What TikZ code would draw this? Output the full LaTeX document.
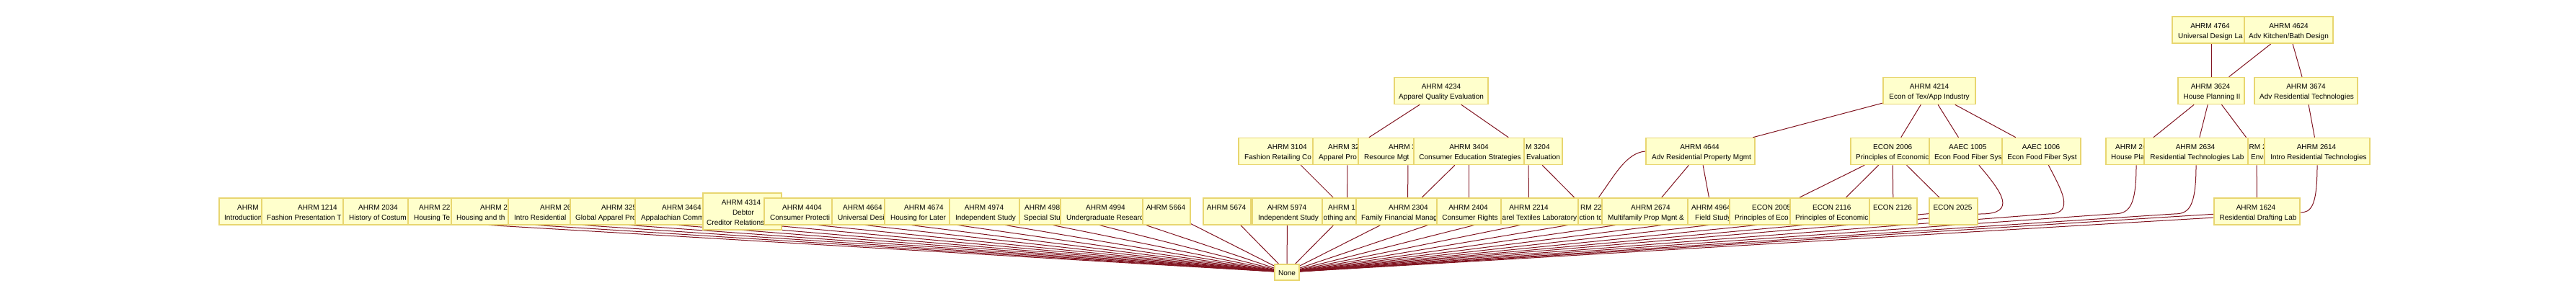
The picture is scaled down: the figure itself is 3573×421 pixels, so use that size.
\documentclass[tikz,border=0pt]{standalone}
\usepackage{fontspec}
\setmainfont{Liberation Sans}
\usetikzlibrary{backgrounds}

\definecolor{crsfill}{RGB}{255,255,204}
\definecolor{crsline}{RGB}{232,214,112}
\definecolor{prqred}{RGB}{128,20,32}

\tikzset{
  crs/.style={draw=crsline, fill=crsfill, line width=1.6pt, inner sep=0pt, minimum height=37pt},
  lbl/.style={inner sep=0pt, anchor=base, font=\fontsize{10pt}{12pt}\selectfont},
  lbll/.style={lbl, anchor=base west},
  prq/.style={draw=prqred, line width=1pt},
}

\begin{document}
\begin{tikzpicture}[x=1pt,y=1pt,yscale=-1,xscale=1]
        \useasboundingbox (0,0) rectangle (3573,421);

        % level 1
        \node[crs, minimum width=108pt] (ahrm4764) at (3067,41.5) {};
        \node[lbl] at (3065.5,39) {AHRM 4764};
        \node[lbll] at (3021,53) {Universal Design La};
        \node[crs, minimum width=123pt] (ahrm4624) at (3174.5,41.5) {};
        \node[lbl] at (3174.5,39) {AHRM 4624};
        \node[lbl] at (3174.5,53) {Adv Kitchen/Bath Design};

        % level 2
        \node[crs, minimum width=130pt] (ahrm4234) at (1999,126) {};
        \node[lbl] at (1999,123.5) {AHRM 4234};
        \node[lbl] at (1999,137.5) {Apparel Quality Evaluation};
        \node[crs, minimum width=128pt] (ahrm4214) at (2676,126) {};
        \node[lbl] at (2676,123.5) {AHRM 4214};
        \node[lbl] at (2676,137.5) {Econ of Tex/App Industry};
        \node[crs, minimum width=92pt] (ahrm3624) at (3067,126) {};
        \node[lbl] at (3066,123.5) {AHRM 3624};
        \node[lbl] at (3068,137.5) {House Planning II};
        \node[crs, minimum width=143pt] (ahrm3674) at (3198.5,126) {};
        \node[lbl] at (3198.5,123.5) {AHRM 3674};
        \node[lbl] at (3199.5,137.5) {Adv Residential Technologies};

        % level 3
        \node[crs, minimum width=134pt] (fashret) at (1785,210) {};
        \node[lbll] at (1758,207.5) {AHRM 3104};
        \node[lbll] at (1726,221.5) {Fashion Retailing Co};
        \node[crs, minimum width=96pt] (apparelpro) at (1869,210) {};
        \node[lbll] at (1842,207.5) {AHRM 32};
        \node[lbll] at (1829,221.5) {Apparel Pro};
        \node[crs, minimum width=138pt] (resmgt) at (1953,210) {};
        \node[lbll] at (1926,207.5) {AHRM 3};
        \node[lbll] at (1892,221.5) {Resource Mgt};
        \node[crs, minimum width=94pt] (ahrm3204) at (2120,210) {};
        \node[lbll] at (2116,207.5) {M 3204};
        \node[lbll] at (2117,221.5) {Evaluation};
        \node[crs, minimum width=153pt] (ahrm3404) at (2037.5,210) {};
        \node[lbl] at (2037.5,207.5) {AHRM 3404};
        \node[lbl] at (2039,221.5) {Consumer Education Strategies};
        \node[crs, minimum width=151pt] (ahrm4644) at (2358.5,210) {};
        \node[lbl] at (2357.5,207.5) {AHRM 4644};
        \node[lbl] at (2360,221.5) {Adv Residential Property Mgmt};
        \node[crs, minimum width=116pt] (econ2006) at (2625,210) {};
        \node[lbll] at (2598,207.5) {ECON 2006};
        \node[lbll] at (2574,221.5) {Principles of Economic};
        \node[crs, minimum width=105pt] (aaec1005) at (2728.5,210) {};
        \node[lbll] at (2703,207.5) {AAEC 1005};
        \node[lbll] at (2683,221.5) {Econ Food Fiber Sys};
        \node[crs, minimum width=109pt] (aaec1006) at (2831.5,210) {};
        \node[lbl] at (2831,207.5) {AAEC 1006};
        \node[lbl] at (2832.5,221.5) {Econ Food Fiber Syst};
        \node[crs, minimum width=84pt] (housepl) at (2963,210) {};
        \node[lbll] at (2934,207.5) {AHRM 26};
        \node[lbll] at (2928,221.5) {House Pla};
        \node[crs, minimum width=100pt] (envi) at (3130,210) {};
        \node[lbll] at (3119.5,207.5) {RM 2};
        \node[lbll] at (3122,221.5) {Envi};
        \node[crs, minimum width=144pt] (ahrm2634) at (3046,210) {};
        \node[lbl] at (3045,207.5) {AHRM 2634};
        \node[lbl] at (3047.5,221.5) {Residential Technologies Lab};
        \node[crs, minimum width=146pt] (ahrm2614) at (3214,210) {};
        \node[lbl] at (3213,207.5) {AHRM 2614};
        \node[lbl] at (3216,221.5) {Intro Residential Technologies};

        % level 4
        \node[crs, minimum width=104pt] (intro) at (356,293.5) {};
        \node[lbll] at (329,291) {AHRM};
        \node[lbll] at (311,305) {Introduction};
        \node[crs, minimum width=154pt] (ahrm1214) at (440,293.5) {};
        \node[lbll] at (413,291) {AHRM 1214};
        \node[lbll] at (370,305) {Fashion Presentation T};
        \node[crs, minimum width=96pt] (ahrm2034) at (524,293.5) {};
        \node[lbll] at (497,291) {AHRM 2034};
        \node[lbll] at (484,305) {History of Costum};
        \node[crs, minimum width=83pt] (housingte) at (607.5,293.5) {};
        \node[lbll] at (581,291) {AHRM 22};
        \node[lbll] at (574,305) {Housing Te};
        \node[crs, minimum width=133pt] (housingand) at (692.5,293.5) {};
        \node[lbll] at (666,291) {AHRM 2};
        \node[lbll] at (633,305) {Housing and th};
        \node[crs, minimum width=141pt] (introres) at (775.5,293.5) {};
        \node[lbll] at (749,291) {AHRM 26};
        \node[lbll] at (713,305) {Intro Residential};
        \node[crs, minimum width=139pt] (globalapp) at (860.5,293.5) {};
        \node[lbll] at (834,291) {AHRM 325};
        \node[lbll] at (798,305) {Global Apparel Pro};
        \node[crs, minimum width=126pt] (ahrm3464) at (944,293.5) {};
        \node[lbll] at (918,291) {AHRM 3464};
        \node[lbll] at (889,305) {Appalachian Comm};
        \node[crs, minimum width=109pt, minimum height=51pt] (ahrm4314) at (1029.5,293.5) {};
        \node[lbl] at (1028,284.5) {AHRM 4314};
        \node[lbl] at (1031,298.5) {Debtor};
        \node[lbll] at (980,312.5) {Creditor Relations};
        \node[crs, minimum width=104pt] (ahrm4404) at (1112,293.5) {};
        \node[lbll] at (1085,291) {AHRM 4404};
        \node[lbll] at (1068,305) {Consumer Protecti};
        \node[crs, minimum width=83pt] (ahrm4664) at (1195.5,293.5) {};
        \node[lbll] at (1169,291) {AHRM 4664};
        \node[lbll] at (1162,305) {Universal Desi};
        \node[crs, minimum width=107pt] (ahrm4674) at (1280.5,293.5) {};
        \node[lbll] at (1254,291) {AHRM 4674};
        \node[lbll] at (1235,305) {Housing for Later};
        \node[crs, minimum width=97pt] (ahrm4974) at (1365.5,293.5) {};
        \node[lbl] at (1365,291) {AHRM 4974};
        \node[lbl] at (1367,305) {Independent Study};
        \node[crs, minimum width=70pt] (specialstu) at (1449,293.5) {};
        \node[lbll] at (1421,291) {AHRM 498};
        \node[lbll] at (1420,305) {Special Stu};
        \node[crs, minimum width=123pt] (ahrm4994) at (1532.5,293.5) {};
        \node[lbll] at (1506,291) {AHRM 4994};
        \node[lbll] at (1479,305) {Undergraduate Researc};
        \node[crs, minimum width=66pt] (ahrm5664) at (1618,293.5) {};
        \node[lbl] at (1617,291) {AHRM 5664};
        \node[crs, minimum width=66pt] (ahrm5674) at (1702,293.5) {};
        \node[lbl] at (1701,291) {AHRM 5674};
        \node[crs, minimum width=101pt] (clothing) at (1868.5,293.5) {};
        \node[lbll] at (1842,291) {AHRM 1};
        \node[lbll] at (1835.5,305) {othing and};
        \node[crs, minimum width=97pt] (ahrm5974) at (1785.5,293.5) {};
        \node[lbl] at (1785,291) {AHRM 5974};
        \node[lbl] at (1787,305) {Independent Study};
        \node[crs, minimum width=143pt] (ahrm2304) at (1952.5,293.5) {};
        \node[lbll] at (1926,291) {AHRM 2304};
        \node[lbll] at (1888,305) {Family Financial Manag};
        \node[crs, minimum width=90pt] (introto) at (2203,293.5) {};
        \node[lbll] at (2192,291) {RM 22};
        \node[lbll] at (2190.5,305) {ction to};
        \node[crs, minimum width=137pt] (ahrm2214) at (2120.5,293.5) {};
        \node[lbl] at (2120.5,291) {AHRM 2214};
        \node[lbll] at (2083.5,305) {arel Textiles Laboratory};
        \node[crs, minimum width=89pt] (ahrm2404) at (2037.5,293.5) {};
        \node[lbl] at (2036.5,291) {AHRM 2404};
        \node[lbl] at (2039,305) {Consumer Rights};
        \node[crs, minimum width=133pt] (ahrm2674) at (2288.5,293.5) {};
        \node[lbll] at (2262,291) {AHRM 2674};
        \node[lbll] at (2230,305) {Multifamily Prop Mgnt \&};
        \node[crs, minimum width=66pt] (ahrm4964) at (2374,293.5) {};
        \node[lbll] at (2346,291) {AHRM 4964};
        \node[lbll] at (2351,305) {Field Study};
        \node[crs, minimum width=116pt] (econ2005) at (2457,293.5) {};
        \node[lbll] at (2430,291) {ECON 2005};
        \node[lbll] at (2406,305) {Principles of Eco};
        \node[crs, minimum width=116pt] (econ2116) at (2541,293.5) {};
        \node[lbll] at (2514,291) {ECON 2116};
        \node[lbll] at (2490,305) {Principles of Economic};
        \node[crs, minimum width=66pt] (econ2126) at (2626,293.5) {};
        \node[lbl] at (2625,291) {ECON 2126};
        \node[crs, minimum width=67pt] (econ2025) at (2709.5,293.5) {};
        \node[lbl] at (2708.5,291) {ECON 2025};
        \node[crs, minimum width=119pt] (ahrm1624) at (3130.5,293.5) {};
        \node[lbl] at (3129,291) {AHRM 1624};
        \node[lbl] at (3132,305) {Residential Drafting Lab};

        % no prerequisite
        \node[crs, minimum width=34pt, minimum height=22pt] (nonebox) at (1785,378) {};
        \node[lbl] at (1785,382) {None};

        \begin{scope}[on background layer]
        \draw[prq] (ahrm4764) -- (ahrm3624);
        \draw[prq] (ahrm4624) -- (ahrm3624);
        \draw[prq] (ahrm4624) -- (ahrm3674);
        \draw[prq] (ahrm4234) -- (apparelpro);
        \draw[prq] (ahrm4234) -- (ahrm3204);
        \draw[prq] (ahrm4214) -- (ahrm4644);
        \draw[prq] (ahrm4214) -- (econ2006);
        \draw[prq] (ahrm4214) -- (aaec1005);
        \draw[prq] (ahrm4214) -- (aaec1006);
        \draw[prq] (ahrm3624) -- (housepl);
        \draw[prq] (ahrm3624) -- (ahrm2634);
        \draw[prq] (ahrm3624) -- (envi);
        \draw[prq] (ahrm3674) -- (ahrm2614);
        \draw[prq] (fashret) -- (clothing);
        \draw[prq] (apparelpro) -- (clothing);
        \draw[prq] (resmgt) -- (ahrm2304);
        \draw[prq] (ahrm3404) -- (ahrm2304);
        \draw[prq] (ahrm3404) -- (ahrm2404);
        \draw[prq] (ahrm3204) -- (ahrm2214);
        \draw[prq] (ahrm3204) -- (introto);
        \draw[prq] (ahrm4644.west) .. controls (2255,212) and (2238,246) .. (introto);
        \draw[prq] (ahrm4644) -- (ahrm2674);
        \draw[prq] (ahrm4644) -- (ahrm4964);
        \draw[prq] (econ2006) -- (econ2005);
        \draw[prq] (econ2006) -- (econ2116);
        \draw[prq] (econ2006) -- (econ2126);
        \draw[prq] (econ2006) -- (econ2025);
        \draw[prq] (envi) -- (ahrm1624);
        \draw[prq] (aaec1005) .. controls (2775,265) and (2800,297) .. (2747,297) -- (nonebox);
        \draw[prq] (aaec1006) .. controls (2858,262) and (2880,297) .. (2841,297) -- (nonebox);
        \draw[prq] (housepl) .. controls (2963,290) and (2952,297) .. (2930,297) -- (nonebox);
        \draw[prq] (ahrm2634) .. controls (3046,290) and (3035,297) .. (3015,297) -- (nonebox);
        \draw[prq] (ahrm2614) .. controls (3214,288) and (3205,295) .. (3190,295) -- (nonebox);
        \draw[prq] (intro) -- (nonebox);
        \draw[prq] (ahrm1214) -- (nonebox);
        \draw[prq] (ahrm2034) -- (nonebox);
        \draw[prq] (housingte) -- (nonebox);
        \draw[prq] (housingand) -- (nonebox);
        \draw[prq] (introres) -- (nonebox);
        \draw[prq] (globalapp) -- (nonebox);
        \draw[prq] (ahrm3464) -- (nonebox);
        \draw[prq] (ahrm4314) -- (nonebox);
        \draw[prq] (ahrm4404) -- (nonebox);
        \draw[prq] (ahrm4664) -- (nonebox);
        \draw[prq] (ahrm4674) -- (nonebox);
        \draw[prq] (ahrm4974) -- (nonebox);
        \draw[prq] (specialstu) -- (nonebox);
        \draw[prq] (ahrm4994) -- (nonebox);
        \draw[prq] (ahrm5664) -- (nonebox);
        \draw[prq] (ahrm5674) -- (nonebox);
        \draw[prq] (ahrm5974) -- (nonebox);
        \draw[prq] (clothing) -- (nonebox);
        \draw[prq] (ahrm2304) -- (nonebox);
        \draw[prq] (ahrm2404) -- (nonebox);
        \draw[prq] (ahrm2214) -- (nonebox);
        \draw[prq] (introto) -- (nonebox);
        \draw[prq] (ahrm2674) -- (nonebox);
        \draw[prq] (ahrm4964) -- (nonebox);
        \draw[prq] (econ2005) -- (nonebox);
        \draw[prq] (econ2116) -- (nonebox);
        \draw[prq] (econ2126) -- (nonebox);
        \draw[prq] (econ2025) -- (nonebox);
        \draw[prq] (ahrm1624) -- (nonebox);
        \end{scope}
    \end{tikzpicture}
\end{document}
